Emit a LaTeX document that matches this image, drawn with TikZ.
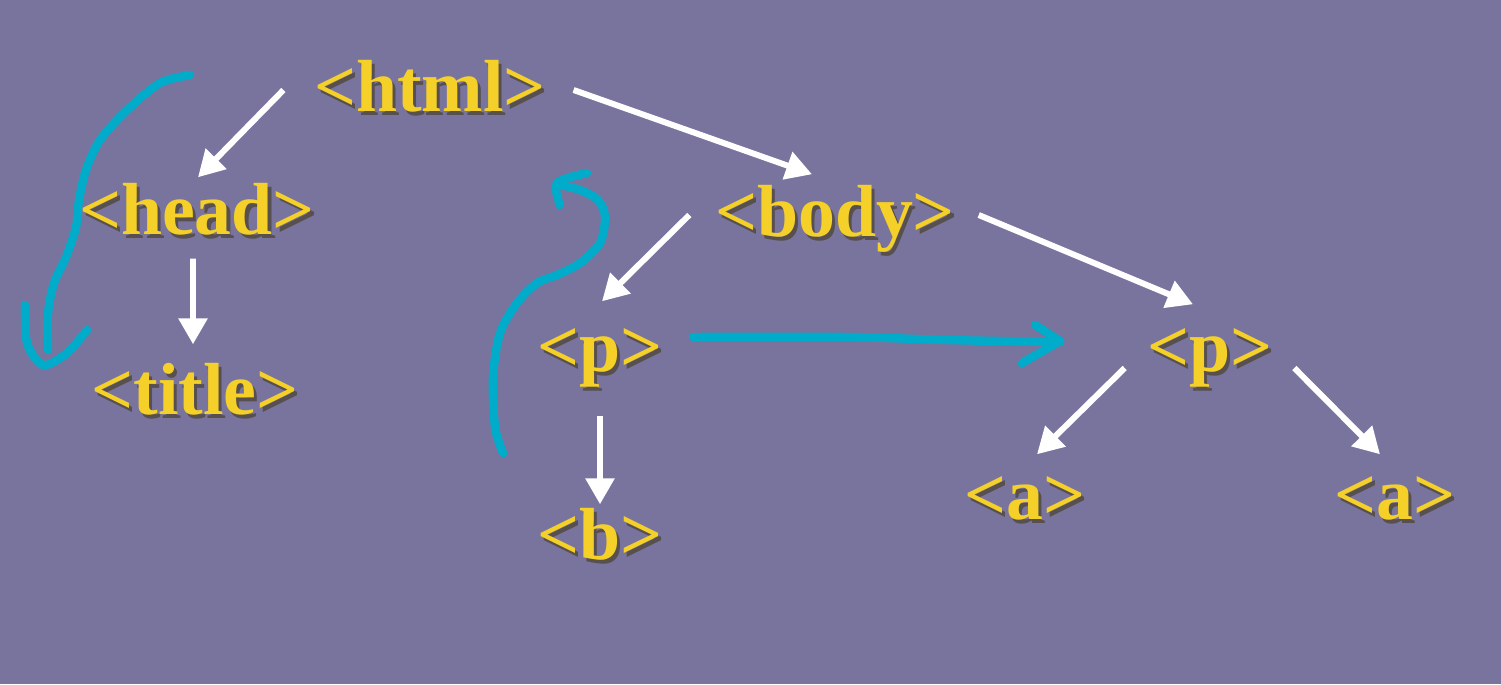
\documentclass[tikz,border=0pt]{standalone}
\usepackage{fontspec}
\setmainfont{Liberation Serif}
\usetikzlibrary{arrows.meta}
\definecolor{slatebg}{RGB}{121,116,158}
\definecolor{tagyellow}{RGB}{244,208,40}
\definecolor{tagshade}{RGB}{88,80,78}
\definecolor{penblue}{RGB}{0,172,202}
\newcommand{\shadetag}[1]{\makebox[0pt][l]{\hspace{0.9pt}\raisebox{-0.9pt}{\color{tagshade}#1}}#1}

\begin{document}
\begin{tikzpicture}[
  tag/.style={text=tagyellow, font=\fontsize{21}{25}\selectfont\bfseries,
    inner sep=0pt, anchor=base, text height=0.5cm, text depth=0.15cm},
  link/.style={white, line width=1.7pt, -{Triangle[width=0.28cm,length=0.26cm]}},
  pen/.style={penblue, line width=2.4pt, line cap=round, line join=round}
]
  % Background
  \fill[slatebg] (0,0) rectangle (15.01,6.84);
  \useasboundingbox (0,0) rectangle (15.01,6.84);
  % Tags
  \node[tag] (html)  at (4.30, 5.72) {\shadetag{<html>}};
  \node[tag] (head)  at (1.97, 4.49) {\shadetag{<head>}};
  \node[tag] (title) at (1.95, 2.69) {\shadetag{<title>}};
  \node[tag] (body)  at (8.35, 4.47) {\shadetag{<body>}};
  \node[tag] (p1)    at (6.00, 3.12) {\shadetag{<p>}};
  \node[tag] (b)     at (6.00, 1.24) {\shadetag{<b>}};
  \node[tag] (p2)    at (12.10, 3.12) {\shadetag{<p>}};
  \node[tag] (a1)    at (10.25, 1.64) {\shadetag{<a>}};
  \node[tag] (a2)    at (13.95, 1.64) {\shadetag{<a>}};
  % Tree links
  \draw[link] ([xshift=-0.30cm,yshift=0.045cm]html.west) -- ([xshift=0.01cm,yshift=0.07cm]head.north);
  \draw[link] ([xshift=0.27cm,yshift=0.045cm]html.east) -- ([xshift=-0.23cm,yshift=0.12cm]body.north);
  \draw[link] ([xshift=-0.04cm,yshift=-0.08cm]head.south) -- ([xshift=-0.02cm,yshift=0.20cm]title.north);
  \draw[link] ([xshift=-0.25cm,yshift=0.045cm]body.west) -- ([xshift=0.02cm,yshift=0.20cm]p1.north);
  \draw[link] ([xshift=0.23cm,yshift=0.045cm]body.east) -- ([xshift=-0.17cm,yshift=0.17cm]p2.north);
  \draw[link] ([yshift=-0.28cm]p1.south) -- ([yshift=0.05cm]b.north);
  \draw[link] ([xshift=-0.22cm,yshift=-0.135cm]p2.west) -- ([xshift=0.12cm,yshift=0.15cm]a1.north);
  \draw[link] ([xshift=0.21cm,yshift=-0.135cm]p2.east) -- ([xshift=-0.15cm,yshift=0.15cm]a2.north);
  % Hand-drawn strokes
  \draw[pen] plot[smooth] coordinates {(1.90,6.09) (1.60,6.01) (1.27,5.74) (1.00,5.44) (0.86,5.14)
    (0.79,4.84) (0.76,4.57) (0.66,4.27) (0.54,4.01) (0.48,3.71) (0.48,3.34)};
  \draw[pen] plot[smooth] coordinates {(0.25,3.79) (0.27,3.41) (0.43,3.19) (0.67,3.31) (0.87,3.54)};
  \draw[pen] plot[smooth] coordinates {(5.03,2.31) (4.95,2.57) (4.93,3.07) (5.00,3.51) (5.17,3.81)
    (5.37,4.01) (5.57,4.09) (5.80,4.21) (6.00,4.41) (6.05,4.67) (5.98,4.84) (5.80,4.94) (5.60,4.99)};
  \draw[pen] plot[smooth] coordinates {(5.87,5.11) (5.57,5.01) (5.60,4.79)};
  \draw[pen] plot[smooth] coordinates {(6.93,3.47) (8.47,3.47) (9.47,3.44) (10.60,3.42)};
  \draw[pen] (10.35,3.59) -- (10.60,3.43) -- (10.22,3.21);
\end{tikzpicture}
\end{document}
